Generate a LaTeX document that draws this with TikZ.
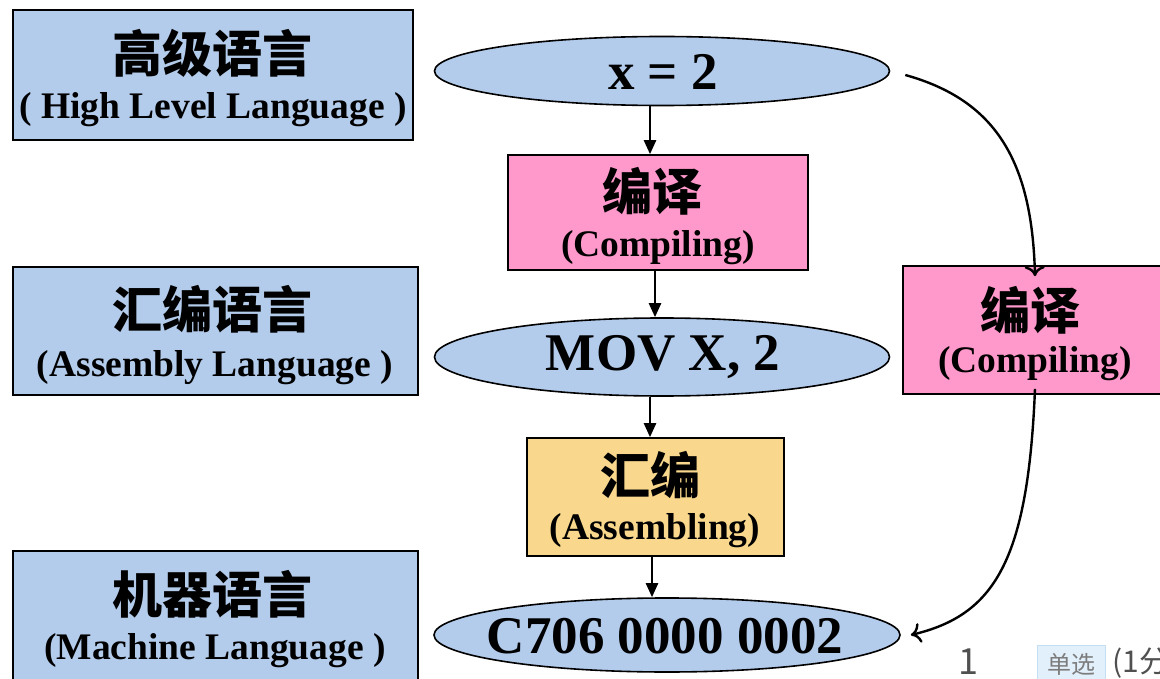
\documentclass[tikz,border=0pt]{standalone}
\usepackage{fontspec}
\setmainfont{Liberation Serif}
\newfontfamily\cjk{Noto Sans CJK SC}
\usetikzlibrary{shapes.geometric,arrows.meta}

\definecolor{langblue}{RGB}{180,204,236}
\definecolor{compink}{RGB}{255,153,204}
\definecolor{asmyellow}{RGB}{249,216,141}
\definecolor{tagblue}{RGB}{226,240,251}
\definecolor{tagedge}{RGB}{196,222,243}
\definecolor{uigray}{RGB}{80,80,80}

\tikzset{
  framed/.style={draw=black, line width=1.6pt, inner sep=0pt},
  langbox/.style={framed, fill=langblue, rectangle},
  compbox/.style={framed, fill=compink, rectangle},
  asmbox/.style={framed, fill=asmyellow, rectangle},
  codeoval/.style={framed, fill=langblue, ellipse},
  cn/.style={font=\cjk\bfseries\fontsize{50}{54}\selectfont, inner sep=0pt},
  en/.style={font=\bfseries\fontsize{37.5}{42}\selectfont, inner sep=0pt},
  code/.style={font=\bfseries\fontsize{53}{57}\selectfont, inner sep=0pt},
  flow/.style={line width=2.4pt, -{Triangle[length=14pt,width=12pt]}},
  bypass/.style={line width=2.4pt, -{To[length=10pt,width=20pt,line width=2.4pt]}},
}

\begin{document}
\begin{tikzpicture}[x=1pt,y=-1pt]
\useasboundingbox (0,0) rectangle (1160,679);
\clip (0,0) rectangle (1160,679);
\fill[white] (0,0) rectangle (1160,679);

% language levels on the left
\node[langbox, minimum width=400pt, minimum height=130pt] (hl) at (213,75) {};
\node[cn] (hlcn) at (212,53) {高级语言};
\node[en] (hlen) at (213,110) {( High Level Language )};

\node[langbox, minimum width=405pt, minimum height=128pt] (al) at (215.5,331) {};
\node[cn] (alcn) at (212,309) {汇编语言};
\node[en] (alen) at (215,368) {(Assembly Language )};

\node[langbox, minimum width=405pt, minimum height=130pt] (ml) at (215.5,616) {};
\node[cn] (mlcn) at (212,594) {机器语言};
\node[en] (mlen) at (215,651) {(Machine Language )};

% the translation chain in the middle
\node[codeoval, minimum width=455pt, minimum height=69pt] (e1) at (662,71) {};
\node[code] (e1t) at (663,72) {x = 2};

\node[compbox, minimum width=300pt, minimum height=115pt] (pb) at (658,212.5) {};
\node[cn] (pbcn) at (652,191) {编译};
\node[en] (pben) at (658,248) {(Compiling)};

\node[codeoval, minimum width=455pt, minimum height=78pt] (e2) at (662,357) {};
\node[code] (e2t) at (663,357) {MOV X, 2};

\node[asmbox, minimum width=257pt, minimum height=118pt] (yb) at (655.5,497) {};
\node[cn] (ybcn) at (650,475) {汇编};
\node[en] (yben) at (655,531) {(Assembling)};

\node[codeoval, minimum width=466pt, minimum height=74pt] (e3) at (667,635) {};
\node[code] (e3t) at (665,636) {C706 0000 0002};

% direct compilation on the right
\node[compbox, minimum width=264pt, minimum height=128pt] (rb) at (1035,330) {};
\node[cn] (rbcn) at (1030,310) {编译};
\node[en] (rben) at (1035,364) {(Compiling)};

% straight steps
\draw[flow] ([xshift=-12pt]e1.south) -- ([xshift=-8pt]pb.north);
\draw[flow] ([xshift=-3pt]pb.south) -- ([xshift=-7pt]e2.north);
\draw[flow] ([xshift=-12pt]e2.south) -- ([xshift=-5.5pt]yb.north);
\draw[flow] ([xshift=-3.5pt]yb.south) -- ([xshift=-15pt]e3.north);

% curved bypass
\coordinate (c1) at ([xshift=15pt,yshift=-4pt]e1.east);
\draw[bypass] (c1) .. controls (995,100) and (1032,160) .. ([yshift=-11pt]rb.north);
\draw[bypass] ([yshift=6pt]rb.south) .. controls (1028,560) and (995,615) .. ([xshift=10pt]e3.east);

% page widgets
\node[font=\cjk\fontsize{36}{38}\selectfont, text=uigray, inner sep=0pt] (qn) at (968,662) {1};
\node[draw=tagedge, fill=tagblue, line width=1pt, minimum width=68pt, minimum height=40pt, inner sep=0pt] (tag) at (1071,665) {};
\node[font=\cjk\fontsize{24}{26}\selectfont, text=uigray!75, inner sep=0pt] (tagt) at (1071,664) {单选};
\node[font=\cjk\fontsize{30}{32}\selectfont, text=uigray, inner sep=0pt, anchor=west] (pts) at (1112,663) {(1分};
\end{tikzpicture}
\end{document}
